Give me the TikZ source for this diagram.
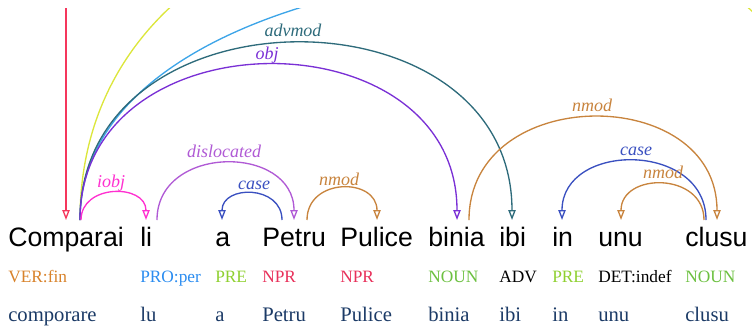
\documentclass[tikz,border=0pt]{standalone}
\usepackage{fontspec}
\setmainfont{Liberation Serif}
\setsansfont{Liberation Sans}
\usetikzlibrary{arrows.meta}
\definecolor{cRoot}{HTML}{F5365C}
\definecolor{cYellow}{HTML}{DCE63C}
\definecolor{cBlue}{HTML}{3DA5E8}
\definecolor{cAdvmod}{HTML}{2E6B7B}
\definecolor{cObj}{HTML}{7A30D5}
\definecolor{cIobj}{HTML}{FF30D0}
\definecolor{cDisl}{HTML}{B05AD5}
\definecolor{cCase}{HTML}{3A50C0}
\definecolor{cNmod}{HTML}{C8843E}
\definecolor{cLemma}{HTML}{1B3A66}
\definecolor{tVer}{HTML}{D8822A}
\definecolor{tPro}{HTML}{2A8CF0}
\definecolor{tPre}{HTML}{8FD030}
\definecolor{tNpr}{HTML}{E8305A}
\definecolor{tNoun}{HTML}{6CC040}
\begin{document}
\begin{tikzpicture}[x=0.75pt,y=-0.75pt,
  word/.style={anchor=base west,inner sep=0pt,font=\sffamily\fontsize{20}{24}\selectfont},
  tag/.style={anchor=base west,inner sep=0pt,font=\fontsize{13}{15}\selectfont},
  lemma/.style={anchor=base west,inner sep=0pt,font=\fontsize{15.5}{18}\selectfont,text=cLemma},
  lab/.style={anchor=base,inner sep=0pt,font=\itshape\fontsize{13.5}{16}\selectfont},
  dep/.style={line width=1pt,-{Triangle[open,length=7.5pt,width=5.5pt]}},
  plain/.style={line width=1pt}]
\useasboundingbox (0,0) rectangle (752,326);
% words
\node[word] (w1) at (8,246) {Comparai};
\node[word] (w2) at (140,246) {li};
\node[word] (w3) at (215,246) {a};
\node[word] (w4) at (262,246) {Petru};
\node[word] (w5) at (340,246) {Pulice};
\node[word] (w6) at (428,246) {binia};
\node[word] (w7) at (499,246) {ibi};
\node[word] (w8) at (552,246) {in};
\node[word] (w9) at (598,246) {unu};
\node[word] (w10) at (685,246) {clusu};
% tags
\node[tag,text=tVer] (t1) at (8,282) {VER:fin};
\node[tag,text=tPro] (t2) at (140,282) {PRO:per};
\node[tag,text=tPre] (t3) at (215,282) {PRE};
\node[tag,text=tNpr] (t4) at (262,282) {NPR};
\node[tag,text=tNpr] (t5) at (340,282) {NPR};
\node[tag,text=tNoun] (t6) at (428,282) {NOUN};
\node[tag,text=black] (t7) at (499,282) {ADV};
\node[tag,text=tPre] (t8) at (552,282) {PRE};
\node[tag,text=black] (t9) at (598,282) {DET:indef};
\node[tag,text=tNoun] (t10) at (685,282) {NOUN};
% lemmas
\node[lemma] (l1) at (8,321) {comporare};
\node[lemma] (l2) at (140,321) {lu};
\node[lemma] (l3) at (215,321) {a};
\node[lemma] (l4) at (262,321) {Petru};
\node[lemma] (l5) at (340,321) {Pulice};
\node[lemma] (l6) at (428,321) {binia};
\node[lemma] (l7) at (499,321) {ibi};
\node[lemma] (l8) at (552,321) {in};
\node[lemma] (l9) at (598,321) {unu};
\node[lemma] (l10) at (685,321) {clusu};
% arc end points
\coordinate (rootTop) at (66,8);
\coordinate (rootEnd) at (66,220);
\coordinate (c1) at (80,220);
\coordinate (c1b) at (81,220);
\coordinate (li-in) at (146,220);
\coordinate (li-out) at (157,220);
\coordinate (a-in) at (222,220);
\coordinate (petru-out1) at (282,220);
\coordinate (petru-in) at (294,220);
\coordinate (petru-out2) at (307,220);
\coordinate (pulice-in) at (377,220);
\coordinate (binia-in) at (457,220);
\coordinate (binia-out) at (469,220);
\coordinate (ibi-in) at (512,220);
\coordinate (in-in) at (562,220);
\coordinate (unu-in) at (621,220);
\coordinate (clusu-out1) at (704,220);
\coordinate (clusu-out2) at (706,220);
\coordinate (clusu-in) at (717,220);
\coordinate (far1) at (838,220);
\coordinate (far2) at (1080,220);
% off-picture arcs
\begin{scope}
\clip (0,8) rectangle (752,326);
\draw[plain,cYellow] (c1) .. controls +(0,-420) and +(0,-420) .. (far1);
\draw[plain,cBlue] (c1) .. controls +(0,-335) and +(0,-335) .. (far2);
\end{scope}
% root
\draw[dep,cRoot] (rootTop) -- (rootEnd);
% arcs
\draw[dep,cAdvmod] (c1) .. controls +(0,-236) and +(0,-236) .. (ibi-in);
\draw[dep,cObj] (c1) .. controls +(0,-207) and +(0,-207) .. (binia-in);
\draw[dep,cIobj] (c1b) .. controls +(0,-36.4) and +(0,-36.4) .. (li-in);
\draw[dep,cDisl] (li-out) .. controls +(0,-76) and +(0,-76) .. (petru-in);
\draw[dep,cCase] (petru-out1) .. controls +(0,-35.3) and +(0,-35.3) .. (a-in);
\draw[dep,cNmod] (petru-out2) .. controls +(0,-42.7) and +(0,-42.7) .. (pulice-in);
\draw[dep,cNmod] (binia-out) .. controls +(0,-137) and +(0,-137) .. (clusu-in);
\draw[dep,cCase] (clusu-out2) .. controls +(0,-78.7) and +(0,-78.7) .. (in-in);
\draw[dep,cNmod] (clusu-out1) .. controls +(0,-48) and +(0,-48) .. (unu-in);
% labels
\node[lab,text=cIobj] (L1) at (111,187) {iobj};
\node[lab,text=cDisl] (L2) at (224,157) {dislocated};
\node[lab,text=cCase] (L3) at (254,189) {case};
\node[lab,text=cNmod] (L4) at (339,185) {nmod};
\node[lab,text=cObj] (L5) at (267,59) {obj};
\node[lab,text=cAdvmod] (L6) at (293,36.5) {advmod};
\node[lab,text=cNmod] (L7) at (592,111) {nmod};
\node[lab,text=cCase] (L8) at (636,155) {case};
\node[lab,text=cNmod] (L9) at (663,178) {nmod};
\end{tikzpicture}
\end{document}
